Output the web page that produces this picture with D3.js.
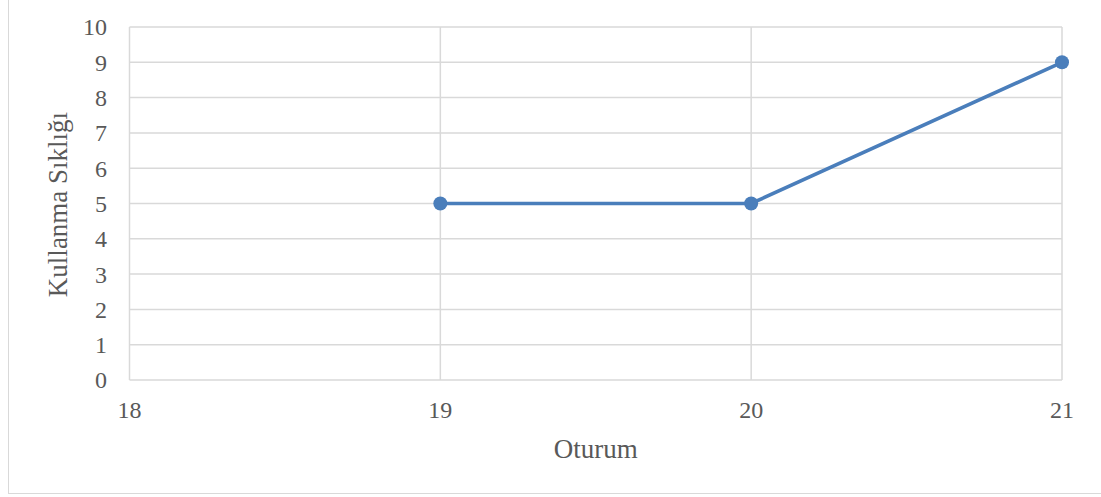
<!DOCTYPE html>
<html><head><meta charset="utf-8">
<script src="https://cdn.jsdelivr.net/npm/d3@7"></script>
<style>body{margin:0;background:#fff;}svg{display:block;font-family:"Liberation Serif","DejaVu Serif",serif;}</style>
</head><body>
<script>
const xValues = [19, 20, 21];
const yValues = [5, 5, 9];
const xTicks = [18, 19, 20, 21];
const yTicks = [0,1,2,3,4,5,6,7,8,9,10];
const xTitle = "Oturum";
const yTitle = "Kullanma Sıklığı";

const W = 1101, H = 497;
const svg = d3.select("body").append("svg").attr("width", W).attr("height", H);
svg.append("rect").attr("x", 8.5).attr("y", -2).attr("width", W + 10).attr("height", 497.5 - 2)
  .attr("fill", "none").attr("stroke", "#d9d9d9").attr("stroke-width", 1);

const x = d3.scaleLinear().domain([18, 21]).range([129.5, 1062]);
const y = d3.scaleLinear().domain([0, 10]).range([380, 27]);
const gray = "#d9d9d9", txt = "#595959";

const g = svg.append("g");
g.selectAll(".hg").data(yTicks).join("line")
  .attr("x1", x(18)).attr("x2", x(21)).attr("y1", d => y(d)).attr("y2", d => y(d))
  .attr("stroke", gray).attr("stroke-width", 1.5);
g.selectAll(".vg").data(xTicks).join("line")
  .attr("x1", d => x(d)).attr("x2", d => x(d)).attr("y1", y(10)).attr("y2", y(0))
  .attr("stroke", gray).attr("stroke-width", 1.5);

g.selectAll(".yl").data(yTicks).join("text")
  .attr("x", 107).attr("y", d => y(d)).attr("dy", "0.35em").attr("text-anchor", "end")
  .attr("fill", txt).attr("font-size", 24).text(d => d);
g.selectAll(".xl").data(xTicks).join("text")
  .attr("x", d => x(d)).attr("y", 418).attr("text-anchor", "middle")
  .attr("fill", txt).attr("font-size", 24).text(d => d);

svg.append("text").attr("x", (x(18)+x(21))/2).attr("y", 458).attr("text-anchor", "middle")
  .attr("fill", txt).attr("font-size", 27).text(xTitle);
svg.append("text").attr("transform", `translate(67,${(y(0)+y(10))/2 + 1}) rotate(-90)`)
  .attr("text-anchor", "middle")
  .attr("fill", txt).attr("font-size", 27).text(yTitle);

const data = xValues.map((v, i) => [v, yValues[i]]);
svg.append("path").datum(data)
  .attr("d", d3.line().x(d => x(d[0])).y(d => y(d[1])))
  .attr("fill", "none").attr("stroke", "#4a7ebb").attr("stroke-width", 3.6);
svg.selectAll(".pt").data(data).join("circle")
  .attr("cx", d => x(d[0])).attr("cy", d => y(d[1])).attr("r", 7).attr("fill", "#4a7ebb");
</script>
</body></html>
